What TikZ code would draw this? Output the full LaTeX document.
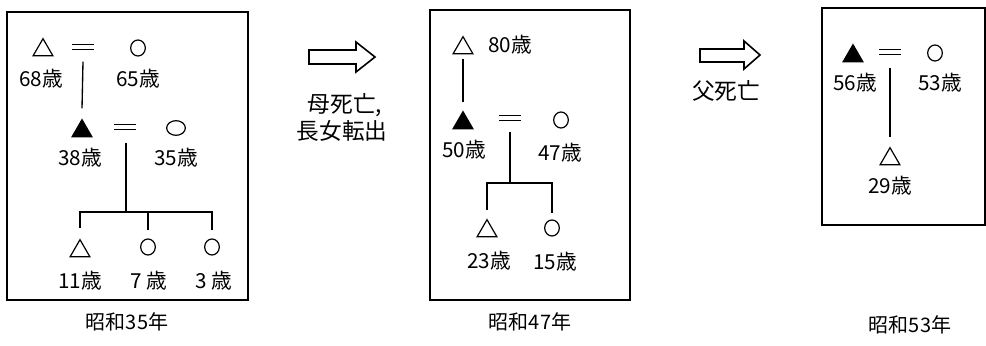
\documentclass[tikz,border=0pt]{standalone}
\usepackage{fontspec}
\setmainfont{Noto Sans CJK JP}
\usetikzlibrary{shapes.geometric,calc}
\begin{document}
\begin{tikzpicture}[x=0.75pt,y=-0.75pt,
  tri/.style={regular polygon, regular polygon sides=3, draw, line width=0.9pt, minimum size=17pt, inner sep=0pt},
  ftri/.style={tri, fill=black},
  circ/.style={ellipse, draw, line width=0.9pt, minimum width=11pt, minimum height=12pt, inner sep=0pt},
  age/.style={font=\fontsize{15.5}{17}\selectfont, inner sep=0pt},
  yearcap/.style={font=\fontsize{15}{17}\selectfont, inner sep=0pt},
  note/.style={font=\fontsize{17}{19}\selectfont, inner sep=0pt, align=left},
  eq/.style={minimum width=16pt, minimum height=3.5pt, inner sep=0pt},
  frame/.style={draw, line width=1.1pt},
  link/.style={line width=1pt},
  bigarrow/.style={draw, line width=1.2pt, line join=miter}]
\useasboundingbox (0,0) rectangle (986,346);

% ---------- Box 1 ----------
\draw[frame] (7,12) rectangle (248,300);
\node[tri]  (tA) at (43,50) {};
\node[eq]   (eqA) at (83,47) {};
\node[circ] (cA) at (138,48) {};
\node[age] (lA1) at (41,79) {68歳};
\node[age] (lA2) at (138,79) {65歳};
\node[ftri] (fB) at (82,131) {};
\node[eq]   (eqB) at (125,127) {};
\node[ellipse, draw, line width=0.9pt, minimum width=14pt, minimum height=11pt, inner sep=0pt] (cB) at (176,128) {};
\node[age] (lB1) at (80,158) {38歳};
\node[age] (lB2) at (176,158) {35歳};
\coordinate (jA) at (126,212);
\node[tri]  (tC1) at (80,251) {};
\node[circ] (cC2) at (148,247) {};
\node[circ] (cC3) at (212,247) {};
\node[age] (lC1) at (80,281) {11歳};
\node[age] (lC2) at (149,281) {7 歳};
\node[age] (lC3) at (214,281) {3 歳};
\draw[link] ($(eqA.south)+(0,12)$) -- ($(fB.north)+(0,-10)$);
\draw[link] ($(eqB.south)+(1,13)$) -- (jA);
\draw[link] (jA) -| ($(tC1.north)+(0,-10)$);
\draw[link] (jA) -| ($(cC3.north)+(0,-8)$);
\draw[link] (jA -| cC2) -- ($(cC2.north)+(0,-8)$);

% ---------- Arrow 1 ----------
\draw[bigarrow] (309,50) -- (356,50) -- (356,42) -- (375,57) -- (356,72) -- (356,64) -- (309,64) -- cycle;
\node[note] (n1) at (345,105) {母死亡,};
\node[note] (n2) at (342,131) {長女転出};

% ---------- Box 2 ----------
\draw[frame] (430,10) rectangle (630,300);
\node[tri]  (tD) at (463,48) {};
\node[age]  (lD) at (510,45) {80歳};
\node[ftri] (fE) at (463,123) {};
\node[eq]   (eqE) at (510,118) {};
\node[circ] (cE) at (561,120) {};
\node[age] (lE1) at (464,150) {50歳};
\node[age] (lE2) at (560,153) {47歳};
\coordinate (jE) at (510,183);
\node[tri]  (tF1) at (487,231) {};
\node[circ] (cF2) at (552,228) {};
\node[age] (lF1) at (489,261) {23歳};
\node[age] (lF2) at (555,262) {15歳};
\draw[link] ($(tD.south)+(0,5)$) -- ($(fE.north)+(0,-8)$);
\draw[link] ($(eqE.south)+(0,11)$) -- (jE);
\draw[link] (jE) -| ($(tF1.north)+(0,-8)$);
\draw[link] (jE) -| ($(cF2.north)+(0,-6)$);

% ---------- Arrow 2 ----------
\draw[bigarrow] (700,49) -- (744,49) -- (744,41) -- (760,55) -- (744,69) -- (744,62) -- (700,62) -- cycle;
\node[note] (n3) at (726,91) {父死亡};

% ---------- Box 3 ----------
\draw[frame] (822,8) rectangle (985,225);
\node[ftri] (fG) at (853,56) {};
\node[eq]   (eqG) at (890,52) {};
\node[circ] (cG) at (935,53) {};
\node[age] (lG1) at (855,83) {56歳};
\node[age] (lG2) at (940,83) {53歳};
\node[tri]  (tH) at (890,159) {};
\node[age] (lH) at (890,186) {29歳};
\draw[link] ($(eqG.south)+(0,13)$) -- ($(tH.north)+(0,-9)$);

% equal signs
\foreach \e in {eqA,eqB,eqE,eqG}{
  \draw[line width=1pt] (\e.north west) -- (\e.north east);
  \draw[line width=1pt] (\e.south west) -- (\e.south east);
}

% ---------- captions ----------
\node[yearcap] (k1) at (127,322) {昭和35年};
\node[yearcap] (k2) at (530,322) {昭和47年};
\node[yearcap] (k3) at (910,325) {昭和53年};
\end{tikzpicture}
\end{document}
